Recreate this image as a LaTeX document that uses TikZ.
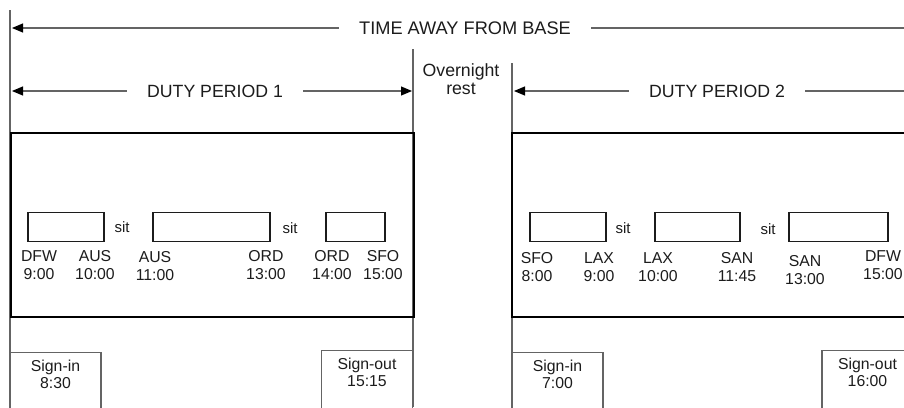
\documentclass[tikz,border=0pt]{standalone}
\usepackage{fontspec}
\setmainfont{Liberation Sans}
\usetikzlibrary{arrows.meta}
\definecolor{pairink}{RGB}{28,28,28}
\definecolor{pairline}{RGB}{100,100,100}

\begin{document}
\begin{tikzpicture}[x=1pt,y=-1pt,text=pairink]

% canvas, cut like the source figure
\useasboundingbox (0,0) rectangle (904,407);
\clip (0,0) rectangle (904,407);
\fill[white] (0,0) rectangle (904,407);

\tikzset{
  guide/.style={draw=pairline,line width=1.1pt},
  span/.style={
    draw=pairline,
    line width=1.1pt,
    -{Triangle[length=11pt,width=9pt,color=black]}
  },
  spanlabel/.style={
    inner xsep=20pt,
    inner ysep=0pt,
    font=\fontsize{17.7}{18}\selectfont
  },
  duty/.style={draw=black,line width=1.8pt,inner sep=0pt},
  leg/.style={
    draw=pairink,
    line width=1.3pt,
    minimum height=29pt,
    inner sep=0pt
  },
  stop/.style={
    align=center,
    inner sep=0pt,
    font=\fontsize{15.8}{18}\selectfont
  },
  sitlabel/.style={inner sep=0pt,font=\fontsize{15}{16}\selectfont},
  signbox/.style={
    draw=pairline,
    line width=1.1pt,
    anchor=north,
    align=center,
    minimum width=91pt,
    inner ysep=7pt,
    text depth=40pt,
    font=\fontsize{15.8}{17}\selectfont
  }
}

% guide lines
\draw[guide] (10,10) -- (10,407);
\draw[guide] (413,49) -- (413,407);
\draw[guide] (512,63) -- (512,407);

% time away from base
\node[spanlabel,font=\fontsize{18.2}{19}\selectfont] (tab) at (465,28) {TIME AWAY FROM BASE};
\coordinate (tabL) at (12,28);
\coordinate (tabR) at (930,28);
\draw[span] (tab.west) -- (tabL);
\draw[span] (tab.east) -- (tabR);

% duty periods
\node[spanlabel] (dp1lab) at (215,91) {DUTY PERIOD 1};
\coordinate (dp1L) at (12,91);
\coordinate (dp1R) at (412,91);
\draw[span] (dp1lab.west) -- (dp1L);
\draw[span] (dp1lab.east) -- (dp1R);

\node[spanlabel] (dp2lab) at (717,91) {DUTY PERIOD 2};
\coordinate (dp2L) at (514,91);
\coordinate (dp2R) at (915,91);
\draw[span] (dp2lab.west) -- (dp2L);
\draw[span] (dp2lab.east) -- (dp2R);

\node[align=center,inner sep=0pt,font=\fontsize{17.7}{18}\selectfont]
  (rest) at (461,79) {Overnight\\rest};

% duty boxes
\node[duty,minimum width=403pt,minimum height=184pt] (dp1) at (212.5,225) {};
\node[duty,minimum width=403pt,minimum height=184pt] (dp2) at (713.5,225) {};

% flight legs
\node[leg,minimum width=76pt]  (leg1) at (66,227) {};
\node[leg,minimum width=117pt] (leg2) at (211.5,227) {};
\node[leg,minimum width=59pt]  (leg3) at (355.5,227) {};
\node[leg,minimum width=76pt]  (leg4) at (568,227) {};
\node[leg,minimum width=85pt]  (leg5) at (697.5,227) {};
\node[leg,minimum width=99pt]  (leg6) at (838.5,227) {};

% sits
\foreach \id/\x/\y in {s1/122/227,s2/290/228,s3/623/228,s4/768/229}{
  \node[sitlabel] (\id) at (\x,\y) {sit};
}

% stations and times
\foreach \id/\x/\y/\code/\tm in {
  a1/39/265/DFW/9:00, a2/95/265/AUS/10:00, a3/155/266/AUS/11:00,
  a4/266/265/ORD/13:00, a5/332/265/ORD/14:00, a6/383/265/SFO/15:00,
  b1/537/267/SFO/8:00, b2/599/267/LAX/9:00, b3/658/267/LAX/10:00,
  b4/737/267/SAN/11:45, b5/805/270/SAN/13:00, b6/883/265/DFW/15:00}{
  \node[stop] (\id) at (\x,\y) {\code\\\tm};
}

% sign-in / sign-out
\node[signbox] (in1)  at (55.5,352) {Sign-in\\8:30};
\node[signbox] (out1) at (367,350)  {Sign-out\\15:15};
\node[signbox] (in2)  at (557.5,352) {Sign-in\\7:00};
\node[signbox] (out2) at (867.5,350) {Sign-out\\16:00};

\end{tikzpicture}
\end{document}
